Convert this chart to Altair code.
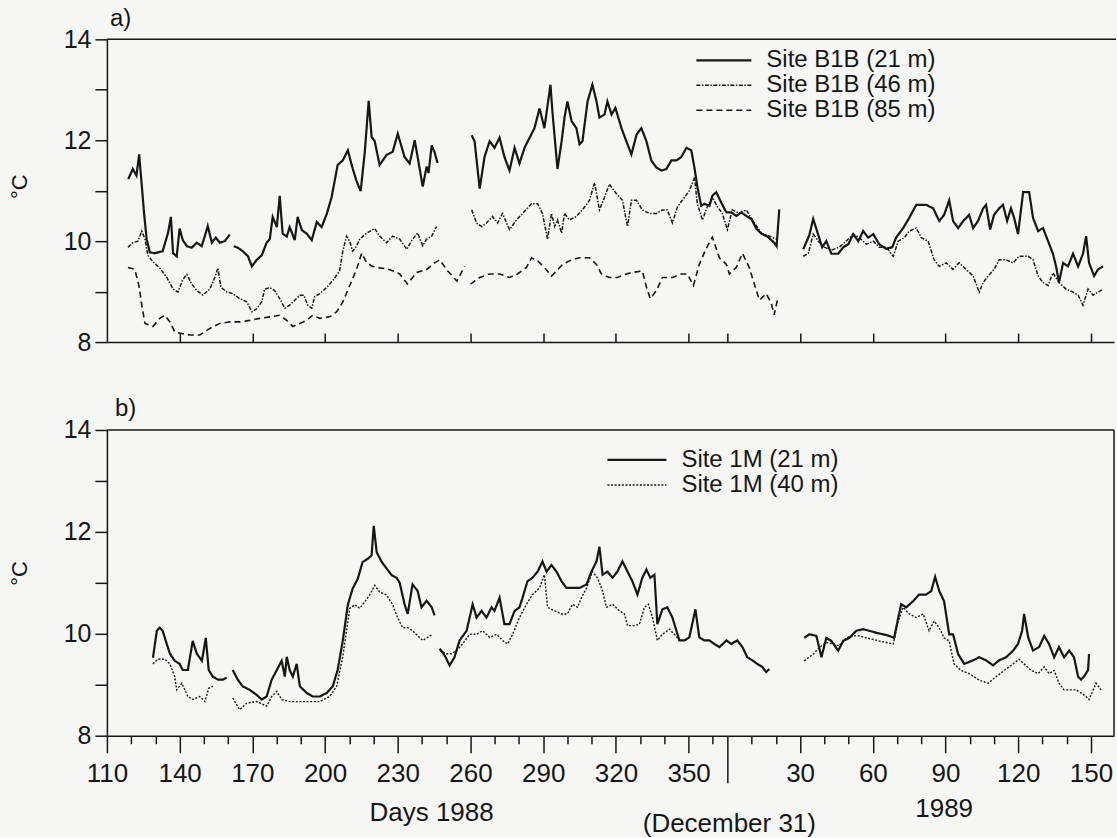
import altair as alt
import pandas as pd

# ---------------------------------------------------------------------------
# Temperature records, Sites B1B and 1M.  Day axis runs continuously:
# 1988 day-of-year up to 366 (December 31), then 366 + day-of-year for 1989.
# Each series is a list of segments; breaks between segments are data gaps.
# ---------------------------------------------------------------------------

B1B_21_DAYS = [
    [118.8, 120.7, 122.2, 123.3, 124.4, 125.3, 126.4, 127.7, 129.5, 133.0, 135.2, 136.4, 137.3, 138.8,
     140.0, 141.3, 143.0, 145.0, 147.1, 149.1, 150.4, 151.6, 153.3, 154.9, 156.6, 158.6, 160.7],
    [162.3, 164.0, 166.1, 168.2, 169.8, 171.8, 173.9, 175.9, 177.2, 178.4, 180.1, 181.3, 182.5, 184.2,
     185.4, 187.5, 188.7, 190.4, 192.4, 194.5, 196.6, 198.6, 200.7, 202.7, 205.2, 207.3, 209.4, 211.4,
     213.0, 214.7, 216.4, 218.0, 219.2, 220.5, 222.5, 225.4, 227.9, 230.0, 232.8, 234.9, 237.0, 238.2,
     240.3, 241.9, 242.7, 244.0, 245.2, 246.4],
    [260.5, 261.7, 263.8, 265.8, 267.9, 269.9, 272.0, 274.0, 276.1, 278.2, 280.2, 282.3, 284.4, 286.4,
     288.5, 290.5, 293.0, 293.8, 295.9, 297.6, 298.8, 300.0, 301.7, 303.7, 305.0, 306.2, 308.3, 310.3,
     312.0, 313.2, 315.3, 316.5, 318.2, 319.8, 322.3, 324.3, 326.4, 328.5, 330.5, 332.6, 334.6, 336.7,
     338.8, 340.8, 342.9, 345.0, 347.0, 349.1, 351.1, 352.4, 353.6, 355.2, 356.5, 358.6, 359.8, 361.4,
     363.5, 365.6, 367.6, 369.7, 371.7, 373.8, 375.9, 377.9, 380.0, 382.5, 385.3, 386.3, 387.4],
    [397.3, 399.8, 401.4, 403.5, 405.1, 406.8, 408.9, 411.7, 413.8, 415.9, 417.9, 420.0, 422.0, 424.1,
     426.2, 428.6, 431.5, 434.0, 435.6, 438.5, 441.0, 443.9, 448.0, 450.9, 453.4, 455.4, 457.5, 459.1,
     461.2, 463.3, 465.7, 467.4, 469.4, 471.5, 472.7, 474.4, 476.0, 478.1, 479.7, 481.4, 483.0, 484.3,
     485.9, 488.0, 490.5, 492.1, 494.2, 496.2, 498.3, 500.3, 501.6, 502.8, 504.5, 506.5, 508.6, 510.7,
     512.7, 514.0, 515.2, 517.3, 518.9, 521.0],
]
B1B_21_TEMPS = [
    [11.23, 11.43, 11.30, 11.72, 11.10, 10.57, 10.04, 9.78, 9.76, 9.80, 10.16, 10.48, 9.76, 9.70,
     10.25, 10.02, 9.90, 9.87, 9.97, 9.90, 10.10, 10.30, 9.97, 10.07, 9.97, 10.00, 10.13],
    [9.90, 9.87, 9.80, 9.70, 9.50, 9.63, 9.72, 9.97, 10.04, 10.48, 10.28, 10.90, 10.15, 10.09,
     10.28, 10.02, 10.48, 10.22, 10.15, 10.02, 10.38, 10.28, 10.54, 10.87, 11.51, 11.60, 11.80, 11.44,
     11.19, 10.99, 11.77, 12.78, 12.07, 11.98, 11.51, 11.71, 11.77, 12.13, 11.67, 11.54, 12.00, 11.67,
     11.08, 11.48, 11.35, 11.90, 11.76, 11.55],
    [12.10, 11.98, 11.04, 11.67, 11.98, 11.85, 12.05, 11.67, 11.40, 11.85, 11.54, 11.85, 12.05, 12.24,
     12.63, 12.24, 13.10, 12.57, 11.43, 11.98, 12.45, 12.77, 12.38, 12.24, 11.92, 11.98, 12.77, 13.10,
     12.77, 12.45, 12.51, 12.77, 12.51, 12.64, 12.24, 11.98, 11.72, 12.11, 12.24, 11.98, 11.60, 11.46,
     11.40, 11.43, 11.60, 11.60, 11.67, 11.85, 11.80, 11.46, 11.08, 10.70, 10.74, 10.70, 10.90, 10.97,
     10.76, 10.57, 10.57, 10.50, 10.57, 10.50, 10.44, 10.25, 10.15, 10.09, 9.97, 9.90, 10.63],
    [9.84, 10.12, 10.44, 10.12, 9.88, 10.00, 9.75, 9.75, 9.88, 9.94, 10.14, 10.00, 10.20, 10.07,
     10.14, 9.94, 9.85, 9.88, 10.07, 10.26, 10.46, 10.72, 10.72, 10.65, 10.40, 10.52, 10.81, 10.40,
     10.26, 10.40, 10.52, 10.26, 10.40, 10.65, 10.72, 10.23, 10.52, 10.65, 10.72, 10.40, 10.65, 10.46,
     10.14, 10.97, 10.97, 10.46, 10.20, 10.26, 10.00, 9.75, 9.50, 9.18, 9.57, 9.50, 9.75, 9.50,
     9.75, 10.10, 9.57, 9.31, 9.44, 9.50],
]

B1B_46_DAYS = [
    [118.7, 120.7, 122.8, 124.4, 125.7, 126.9, 129.0, 131.8, 134.7, 137.3, 139.3, 141.3, 143.0, 145.0,
     147.1, 149.6, 152.5, 154.5, 155.8, 157.0, 159.5, 161.9, 164.8, 167.7, 169.8, 171.8, 173.9, 175.1,
     177.2, 179.2, 181.3, 183.4, 185.4, 187.5, 189.6, 191.2, 192.9, 194.5, 195.7, 197.8, 200.7, 203.2,
     206.0, 207.3, 208.9, 210.2, 211.4, 213.0, 214.3, 217.2, 220.5, 222.5, 225.4, 227.9, 230.8, 233.7,
     236.1, 238.2, 240.3, 241.9, 244.0, 246.0],
    [260.5, 262.5, 264.6, 266.6, 269.1, 271.2, 273.2, 276.1, 279.0, 281.5, 285.2, 287.7, 289.7, 291.8,
     293.4, 294.7, 295.9, 297.6, 298.8, 300.8, 303.7, 306.2, 309.1, 311.2, 313.2, 315.3, 317.3, 320.2,
     322.7, 324.8, 326.4, 328.5, 330.9, 333.8, 336.7, 339.2, 341.2, 343.3, 345.4, 347.4, 350.3, 352.4,
     353.6, 355.7, 357.7, 359.8, 361.9, 363.9, 366.0, 368.0, 370.9, 373.8, 376.3, 380.0, 383.3, 386.2],
    [397.3, 399.4, 401.4, 403.5, 406.0, 408.9, 412.1, 415.0, 417.9, 420.4, 423.3, 426.2, 428.6, 431.5,
     434.4, 436.5, 439.0, 441.0, 443.9, 446.0, 448.8, 451.3, 453.4, 456.3, 459.1, 461.6, 464.5, 467.4,
     469.9, 471.5, 473.6, 476.0, 478.1, 481.0, 483.9, 486.3, 490.1, 492.1, 494.2, 496.2, 498.3, 500.3,
     502.8, 505.7, 508.6, 510.7, 512.7, 514.8, 516.9, 518.9, 521.0],
]
B1B_46_TEMPS = [
    [9.88, 9.97, 10.00, 10.20, 10.04, 9.72, 9.59, 9.47, 9.28, 9.05, 8.99, 9.24, 9.34, 9.15,
     9.02, 8.93, 9.05, 9.28, 9.47, 9.09, 8.99, 8.96, 8.86, 8.80, 8.60, 8.66, 8.80, 9.05,
     9.08, 9.02, 8.86, 8.67, 8.73, 8.83, 8.93, 8.93, 8.73, 8.67, 8.90, 8.96, 9.08, 9.22,
     9.41, 9.80, 10.10, 9.99, 9.80, 9.90, 10.04, 10.16, 10.25, 10.10, 9.97, 10.10, 10.04, 9.84,
     10.04, 10.16, 9.91, 10.04, 10.10, 10.29],
    [10.62, 10.36, 10.29, 10.36, 10.49, 10.36, 10.55, 10.23, 10.42, 10.55, 10.74, 10.74, 10.55, 10.04,
     10.55, 10.29, 10.42, 10.16, 10.55, 10.42, 10.49, 10.62, 10.81, 11.16, 10.62, 10.87, 11.13, 10.94,
     10.81, 10.29, 10.81, 10.81, 10.62, 10.55, 10.55, 10.62, 10.62, 10.36, 10.68, 10.81, 11.00, 11.26,
     10.74, 10.42, 10.68, 10.87, 10.68, 10.55, 10.23, 10.62, 10.55, 10.62, 10.42, 10.16, 10.10, 10.04],
    [9.70, 9.76, 10.14, 10.00, 9.88, 9.82, 9.88, 10.00, 10.14, 10.07, 9.94, 10.00, 9.88, 9.88,
     9.70, 10.00, 10.07, 10.20, 10.26, 10.07, 10.00, 9.63, 9.50, 9.57, 9.44, 9.57, 9.44, 9.31,
     8.99, 9.18, 9.31, 9.44, 9.63, 9.63, 9.57, 9.70, 9.70, 9.63, 9.31, 9.18, 9.12, 9.37,
     9.18, 9.05, 8.99, 8.93, 8.73, 9.05, 8.93, 8.99, 9.05],
]

B1B_85_DAYS = [
    [118.7, 121.5, 123.2, 124.4, 125.7, 129.0, 131.8, 133.9, 136.0, 138.0, 140.9, 144.2, 148.3, 152.5,
     156.6, 160.7, 164.8, 168.9, 173.0, 177.2, 181.3, 184.2, 186.7, 189.6, 192.4, 194.9, 197.8, 201.9,
     204.8, 207.3, 210.2, 213.0, 215.1, 217.2, 219.6, 222.5, 225.8, 228.7, 230.8, 234.0, 237.8, 241.9,
     245.2, 247.3, 250.6, 254.4, 257.6],
    [260.0, 263.8, 267.9, 272.0, 276.1, 279.4, 283.1, 285.2, 287.7, 290.5, 293.4, 295.5, 298.0, 301.7,
     305.0, 309.1, 312.0, 314.0, 317.3, 320.6, 324.3, 326.8, 330.9, 332.6, 334.2, 336.7, 339.2, 343.3,
     347.0, 349.5, 352.0, 354.4, 357.3, 359.8, 362.7, 365.6, 366.8, 369.7, 372.2, 375.0, 377.1, 379.2,
     382.0, 384.1, 385.3, 386.6],
]
B1B_85_TEMPS = [
    [9.48, 9.44, 9.12, 8.73, 8.37, 8.31, 8.47, 8.53, 8.40, 8.20, 8.17, 8.14, 8.14, 8.27,
     8.37, 8.40, 8.40, 8.43, 8.47, 8.50, 8.53, 8.43, 8.31, 8.37, 8.43, 8.53, 8.47, 8.50,
     8.60, 8.79, 9.12, 9.44, 9.76, 9.57, 9.50, 9.47, 9.45, 9.40, 9.35, 9.15, 9.38, 9.44,
     9.57, 9.63, 9.41, 9.21, 9.50],
    [9.15, 9.28, 9.35, 9.35, 9.28, 9.35, 9.48, 9.67, 9.61, 9.48, 9.31, 9.41, 9.54, 9.63,
     9.67, 9.67, 9.54, 9.35, 9.28, 9.28, 9.35, 9.38, 9.41, 9.09, 8.86, 9.02, 9.28, 9.28,
     9.35, 9.35, 9.12, 9.54, 9.86, 10.08, 9.67, 9.54, 9.35, 9.48, 9.76, 9.48, 9.15, 8.83,
     8.96, 8.77, 8.54, 8.83],
]

M1_21_DAYS = [
    [129.0, 130.6, 131.8, 133.0, 134.7, 136.0, 138.0, 140.0, 141.3, 143.4, 145.4, 147.1, 149.2, 150.8,
     152.0, 153.7, 155.8, 157.8, 159.5],
    [161.9, 164.0, 166.0, 168.9, 171.8, 173.9, 175.9, 178.0, 180.1, 182.1, 183.4, 184.2, 185.4, 186.7,
     188.3, 189.6, 192.4, 194.9, 197.8, 200.7, 203.2, 205.2, 207.3, 209.4, 211.4, 213.5, 215.5, 217.6,
     219.2, 220.1, 221.3, 223.4, 225.4, 227.5, 229.5, 230.8, 232.8, 234.1, 236.1, 238.2, 239.8, 241.9,
     244.0, 245.2],
    [247.3, 249.3, 251.4, 253.4, 255.5, 258.4, 260.9, 262.5, 264.6, 266.6, 268.7, 269.9, 272.0, 274.0,
     276.1, 278.2, 280.2, 281.5, 283.5, 285.6, 287.7, 289.7, 291.4, 293.4, 295.5, 297.6, 299.6, 302.1,
     305.0, 307.9, 309.9, 312.0, 313.2, 314.5, 316.5, 318.6, 320.6, 322.7, 324.8, 326.8, 328.9, 330.9,
     332.6, 334.2, 335.9, 337.1, 339.2, 341.2, 343.3, 346.2, 348.3, 350.3, 352.8, 354.4, 356.5, 358.6,
     360.6, 362.7, 365.6, 367.6, 370.1, 372.2, 374.2, 376.3, 378.3, 380.4, 382.0, 383.3],
    [397.7, 399.8, 402.7, 404.8, 406.8, 408.9, 411.7, 413.8, 416.3, 419.2, 422.0, 424.5, 427.4, 430.3,
     432.7, 434.8, 436.5, 437.7, 439.8, 442.6, 445.1, 448.0, 450.1, 451.7, 453.4, 455.4, 457.5, 459.1,
     461.2, 463.7, 467.4, 469.9, 472.7, 475.6, 478.1, 481.0, 483.9, 485.9, 487.6, 488.4, 490.1, 492.1,
     494.6, 496.7, 498.7, 500.8, 502.8, 504.9, 507.0, 509.0, 510.7, 511.9, 513.1, 514.8, 515.2],
]
M1_21_TEMPS = [
    [9.53, 10.06, 10.12, 10.06, 9.80, 9.61, 9.47, 9.41, 9.29, 9.29, 9.86, 9.61, 9.47, 9.92,
     9.29, 9.16, 9.10, 9.10, 9.14],
    [9.29, 9.10, 8.97, 8.90, 8.80, 8.71, 8.77, 9.10, 9.29, 9.47, 9.16, 9.55, 9.29, 9.16,
     9.41, 8.97, 8.84, 8.77, 8.77, 8.84, 8.97, 9.29, 9.86, 10.57, 10.89, 11.08, 11.41, 11.47,
     11.54, 12.12, 11.60, 11.41, 11.28, 11.15, 11.10, 11.00, 10.58, 10.39, 10.97, 10.84, 10.52, 10.65,
     10.52, 10.36],
    [9.71, 9.58, 9.38, 9.54, 9.87, 10.06, 10.58, 10.32, 10.45, 10.32, 10.52, 10.45, 10.71, 10.19,
     10.19, 10.45, 10.52, 10.71, 11.03, 11.10, 11.22, 11.42, 11.22, 11.35, 11.22, 11.03, 10.90, 10.90,
     10.90, 10.97, 11.22, 11.42, 11.71, 11.16, 11.22, 11.10, 11.22, 11.42, 11.22, 11.03, 10.77, 11.10,
     11.26, 11.10, 11.16, 10.19, 10.48, 10.52, 10.32, 9.87, 9.87, 9.93, 10.48, 9.93, 9.87, 9.87,
     9.80, 9.74, 9.87, 9.80, 9.87, 9.74, 9.54, 9.48, 9.41, 9.35, 9.25, 9.31],
    [9.92, 9.99, 9.96, 9.54, 9.92, 9.86, 9.67, 9.86, 9.92, 10.06, 10.09, 10.06, 10.02, 9.99,
     9.96, 9.92, 10.32, 10.58, 10.52, 10.64, 10.77, 10.77, 10.84, 11.12, 10.84, 10.64, 9.99, 9.99,
     9.60, 9.41, 9.48, 9.54, 9.48, 9.38, 9.48, 9.54, 9.67, 9.80, 10.06, 10.39, 9.93, 9.67,
     9.74, 9.96, 9.80, 9.54, 9.74, 9.54, 9.67, 9.54, 9.16, 9.10, 9.16, 9.29, 9.60],
]

M1_40_DAYS = [
    [129.0, 131.0, 133.9, 136.0, 138.0, 138.8, 140.9, 143.4, 145.4, 148.3, 150.4, 152.0, 153.7],
    [161.9, 164.8, 167.7, 171.8, 175.9, 178.0, 180.1, 182.1, 185.4, 189.6, 193.7, 197.8, 201.9, 204.8,
     207.3, 210.2, 212.2, 214.3, 216.4, 218.4, 220.5, 222.5, 225.4, 227.9, 230.0, 232.0, 234.1, 236.1,
     238.2, 240.3, 242.3, 244.4],
    [247.3, 250.1, 252.2, 254.3, 256.7, 259.6, 262.5, 265.0, 267.9, 270.8, 273.2, 275.3, 277.4, 280.2,
     283.1, 285.6, 288.5, 290.5, 291.8, 294.7, 297.6, 300.0, 302.1, 304.2, 305.8, 307.9, 310.3, 312.4,
     314.5, 316.1, 318.6, 321.5, 323.5, 324.8, 327.6, 329.7, 331.8, 333.4, 335.1, 337.1, 339.2, 342.1,
     344.1, 346.2],
    [397.7, 401.4, 403.9, 406.8, 409.7, 412.1, 415.0, 417.9, 420.4, 423.3, 426.2, 428.6, 431.5, 434.4,
     436.5, 438.5, 441.0, 443.9, 446.8, 449.2, 451.3, 453.4, 455.4, 457.5, 459.5, 462.4, 465.7, 469.9,
     473.6, 476.9, 480.2, 483.9, 486.3, 488.4, 491.3, 494.2, 496.7, 498.7, 500.8, 502.8, 504.9, 507.0,
     509.8, 511.9, 514.0, 515.2, 516.9, 518.1, 520.2],
]
M1_40_TEMPS = [
    [9.41, 9.50, 9.50, 9.41, 9.16, 8.90, 9.03, 8.77, 8.71, 8.77, 8.67, 8.93, 8.97],
    [8.74, 8.51, 8.64, 8.67, 8.58, 8.77, 8.87, 8.71, 8.67, 8.67, 8.67, 8.67, 8.77, 8.97,
     9.55, 10.50, 10.57, 10.50, 10.63, 10.76, 10.95, 10.82, 10.76, 10.57, 10.31, 10.12, 10.12, 10.06,
     9.96, 9.87, 9.93, 9.99],
    [9.67, 9.61, 9.61, 9.67, 9.80, 9.99, 9.99, 10.06, 9.93, 9.99, 9.87, 9.80, 9.99, 10.32,
     10.58, 10.77, 10.90, 11.16, 10.52, 10.45, 10.39, 10.39, 10.58, 10.52, 10.71, 10.90, 11.22, 11.10,
     10.84, 10.52, 10.58, 10.45, 10.39, 10.16, 10.16, 10.19, 10.52, 10.58, 10.32, 9.87, 9.99, 10.09,
     9.99, 9.87],
    [9.47, 9.60, 9.73, 9.83, 9.80, 9.76, 9.92, 9.96, 9.96, 9.92, 9.89, 9.86, 9.83, 9.80,
     10.25, 10.52, 10.39, 10.32, 10.39, 10.06, 10.25, 10.12, 9.92, 9.86, 9.41, 9.28, 9.22, 9.09,
     9.03, 9.16, 9.28, 9.41, 9.50, 9.41, 9.28, 9.22, 9.35, 9.22, 9.28, 9.03, 8.90, 8.90,
     8.90, 8.84, 8.77, 8.71, 8.90, 9.03, 8.90],
]

# Axis tick positions (continuous day counter) and series labels
TOP_PANEL_TICKS = [140, 170, 200, 230, 260, 290, 320, 350, 366, 396, 426, 456, 486, 516]
BOTTOM_PANEL_TICKS = list(range(110, 361, 10)) + [366] + list(range(376, 526, 10))
LEGEND_A = ["Site B1B (21 m)", "Site B1B (46 m)", "Site B1B (85 m)"]
LEGEND_B = ["Site 1M (21 m)", "Site 1M (40 m)"]

# ---------------------------------------------------------------------------
INK = "#161616"
PAPER = "#f6f6f4"
FONT = "Liberation Sans, Arial, Helvetica, sans-serif"

W = 1008
H_A = 303
H_B = 306
X_DOMAIN = [110, 525.5]

SOLID = dict(strokeDash=[1, 0], strokeWidth=2.2)
DASHDOT = dict(strokeDash=[4, 1.5, 1.5, 1.5], strokeWidth=1.5)
DASHED = dict(strokeDash=[6, 4], strokeWidth=1.6)
DOTTED = dict(strokeDash=[2, 1.6], strokeWidth=1.4)


def series_frame(day_segments, temp_segments, name):
    rows = []
    for s, (days, temps) in enumerate(zip(day_segments, temp_segments)):
        assert len(days) == len(temps), (name, s, len(days), len(temps))
        for i, (d, t) in enumerate(zip(days, temps)):
            rows.append({"day": d, "temp": t, "seg": f"{name}-{s}", "i": i})
    return pd.DataFrame(rows)


x_scale = alt.Scale(domain=X_DOMAIN, nice=False, zero=False)
y_scale = alt.Scale(domain=[8, 14], nice=False, zero=False)


def y_axis(title_y):
    return alt.Axis(
        values=list(range(8, 15)),
        labelExpr="datum.value % 2 == 0 ? '' + datum.value : ''",
        labelOverlap=False,
        tickSize=12, tickWidth=1.5, tickColor=INK,
        domainWidth=1.5, domainColor=INK,
        labelPadding=4, labelFontSize=25, labelFont=FONT, labelColor=INK,
        grid=False,
        title="°C", titleFont=FONT, titleFontSize=22, titleFontWeight="normal",
        titleColor=INK, titleAngle=270, titleX=-87, titleY=title_y,
        titleAlign="center", titleBaseline="middle",
    )


# top panel: inward ticks along the bottom edge, no labels
axis_a_x = alt.Axis(
    orient="top", offset=-H_A, values=TOP_PANEL_TICKS, labels=False,
    tickSize=9, tickWidth=1.5, tickColor=INK,
    domain=True, domainWidth=1.5, domainColor=INK, grid=False, title=None,
)

labeled = ("(datum.value < 366 && (datum.value - 110) % 30 == 0) || "
           "(datum.value > 366 && (datum.value - 366) % 30 == 0)")
axis_b_x = alt.Axis(
    orient="bottom", values=BOTTOM_PANEL_TICKS,
    labelExpr=("datum.value < 366 ? ((datum.value - 110) % 30 == 0 ? '' + datum.value : '') : "
               "((datum.value > 366 && (datum.value - 366) % 30 == 0) ? '' + (datum.value - 366) : '')"),
    labelOverlap=False, labelFlush=False,
    tickSize={"condition": [{"test": "datum.value == 366", "value": 47},
                            {"test": labeled, "value": 17}], "value": 8},
    tickWidth=1.5, tickColor=INK, domainWidth=1.5, domainColor=INK,
    labelFontSize=26, labelFont=FONT, labelColor=INK, labelPadding=8,
    grid=False, title=None,
)


def line_layer(df, style, x_axis, yax):
    return alt.Chart(df).mark_line(color=INK, **style).encode(
        x=alt.X("day:Q", scale=x_scale, axis=x_axis),
        y=alt.Y("temp:Q", scale=y_scale, axis=yax),
        detail="seg:N",
        order="i:Q",
    )


def one_row(label=""):
    return pd.DataFrame({"label": [label]})


def legend_entry(label, style, x0, x1, xt, y):
    sym = alt.Chart(one_row(label)).mark_rule(color=INK, **style).encode(
        x=alt.value(x0), x2=alt.value(x1), y=alt.value(y))
    txt = alt.Chart(one_row(label)).mark_text(
        align="left", baseline="middle", font=FONT, fontSize=24, color=INK
    ).encode(x=alt.value(xt), y=alt.value(y), text="label:N")
    return sym + txt


def text_at(label, x, y, size, align="center", baseline="middle"):
    return alt.Chart(one_row(label)).mark_text(
        align=align, baseline=baseline, font=FONT, fontSize=size, color=INK
    ).encode(x=alt.value(x), y=alt.value(y), text="label:N")


# ---- panel a: Site B1B ----
ya = y_axis(147)
panel_a = alt.layer(
    line_layer(series_frame(B1B_85_DAYS, B1B_85_TEMPS, "b85"), DASHED, axis_a_x, ya),
    line_layer(series_frame(B1B_46_DAYS, B1B_46_TEMPS, "b46"), DASHDOT, axis_a_x, ya),
    line_layer(series_frame(B1B_21_DAYS, B1B_21_TEMPS, "b21"), SOLID, axis_a_x, ya),
    alt.Chart(one_row()).mark_rule(color=INK, strokeWidth=1.5).encode(
        x=alt.value(0), x2=alt.value(W + 2), y=alt.value(0)),
    legend_entry(LEGEND_A[0], SOLID, 590, 645, 660, 21),
    legend_entry(LEGEND_A[1], DASHDOT, 590, 645, 660, 46),
    legend_entry(LEGEND_A[2], DASHED, 590, 645, 660, 71),
    text_at("a)", 3, -13, 24, align="left", baseline="alphabetic"),
).properties(width=W, height=H_A)

# ---- panel b: Site 1M ----
yb = y_axis(143)
panel_b = alt.layer(
    line_layer(series_frame(M1_40_DAYS, M1_40_TEMPS, "m40"), DOTTED, axis_b_x, yb),
    line_layer(series_frame(M1_21_DAYS, M1_21_TEMPS, "m21"), SOLID, axis_b_x, yb),
    alt.Chart(one_row()).mark_rule(color=INK, strokeWidth=1.5).encode(
        x=alt.value(0), x2=alt.value(W), y=alt.value(0)),
    alt.Chart(one_row()).mark_rule(color=INK, strokeWidth=1.5).encode(
        x=alt.value(W), y=alt.value(0), y2=alt.value(H_B)),
    legend_entry(LEGEND_B[0], SOLID, 501, 560, 575, 30),
    legend_entry(LEGEND_B[1], DOTTED, 501, 560, 575, 55),
    text_at("b)", 8, -14, 24, align="left", baseline="alphabetic"),
    text_at("Days 1988", 325, 383, 26),
    text_at("(December 31)", 623, 394, 26),
    text_at("1989", 838, 379, 26),
).properties(width=W, height=H_B)

chart = alt.vconcat(panel_a, panel_b, spacing=42).properties(
    padding={"left": 9, "top": 7, "right": 0, "bottom": 0},
    background=PAPER,
).configure_view(stroke=None)

chart.save("out.html", embed_options={"renderer": "svg", "actions": False})
